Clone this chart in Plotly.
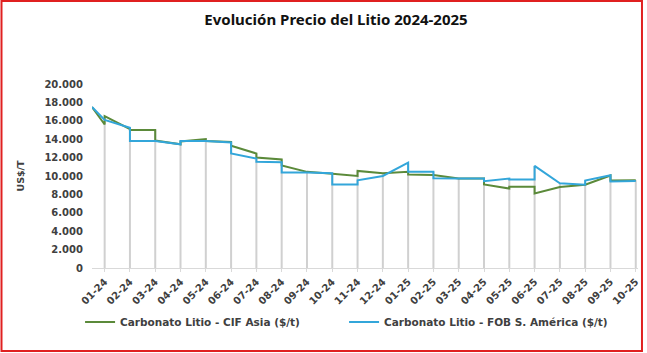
import plotly.graph_objects as go

# ---- data (values in US$/t) ----
months = ["01-24", "02-24", "03-24", "04-24", "05-24", "06-24", "07-24", "08-24",
          "09-24", "10-24", "11-24", "12-24", "01-25", "02-25", "03-25", "04-25",
          "05-25", "06-25", "07-25", "08-25", "09-25", "10-25"]

# opening value (late Dec-23, half a period before the first month)
cif_start = 17500
fob_start = 17500

# readings registered inside each month (in order)
cif_asia = [
    [15600, 16500], [15100, 15000], [15000, 13850], [13450, 13750], [14000, 13800],
    [13700, 13300], [12450, 12000], [11800, 11150], [10450], [10250],
    [10000, 10550], [10300], [10450, 10150], [10100], [9720],
    [9720, 9080], [8640, 8820], [8820, 8100], [8800], [9050],
    [10050, 9500], [9550],
]
fob_sa = [
    [16100], [15250, 13800], [13800], [13450, 13800], [13800],
    [13650, 12450], [11900, 11550], [11500, 10380], [10380], [10300, 9080],
    [9080, 9540], [10000], [11460, 10450], [10450, 9750], [9720],
    [9720, 9440], [9720, 9620], [9620, 11100], [9200], [9050, 9500],
    [10080, 9400], [9450],
]

legend_cif = "Carbonato Litio - CIF Asia ($/t)"
legend_fob = "Carbonato Litio - FOB S. América ($/t)"
title_text = "Evolución Precio del Litio 2024-2025"
y_title = "US$/T"
y_ticks = list(range(0, 20001, 2000))

START_POS = -0.5


def build(start, groups):
    xs, ys = [START_POS], [start]
    for i, vals in enumerate(groups):
        for v in vals:
            xs.append(i)
            ys.append(v)
    return xs, ys


cx, cy = build(cif_start, cif_asia)
fx, fy = build(fob_start, fob_sa)

# drop lines from the highest reading of each month down to the axis
dx, dy = [], []
for i in range(len(months)):
    top = max(max(cif_asia[i]), max(fob_sa[i]))
    dx += [i, i, None]
    dy += [0, top, None]

W, H = 647, 353
L, R, T, B = 92, 6, 84, 85
pw, ph = W - L - R, H - T - B

fig = go.Figure()
fig.add_trace(go.Scatter(x=dx, y=dy, mode="lines", line=dict(color="#D0D0D0", width=2),
                         showlegend=False, hoverinfo="skip"))
fig.add_trace(go.Scatter(x=cx, y=cy, mode="lines", name=legend_cif,
                         line=dict(color="#5B8A3A", width=2)))
fig.add_trace(go.Scatter(x=fx, y=fy, mode="lines", name=legend_fob,
                         line=dict(color="#33A6DA", width=2)))

bold = dict(family="DejaVu Sans", size=10, color="#404040", weight="bold")

fig.update_layout(
    width=W, height=H,
    margin=dict(l=L, r=R, t=T, b=B),
    paper_bgcolor="white", plot_bgcolor="white",
    separators=",.",
    title=dict(text=title_text, x=336 / W, y=1 - 20 / H, xref="container", yref="container",
               xanchor="center", yanchor="middle",
               font=dict(family="Noto Sans", size=15, color="#111111", weight="bold")),
    showlegend=True,
    legend=dict(orientation="h", x=(80 - L) / pw, y=(T + ph - 322) / ph,
                xanchor="left", yanchor="middle",
                font=dict(family="DejaVu Sans", size=10.5, color="#404040", weight="bold"),
                entrywidth=219, entrywidthmode="pixels",
                bgcolor="rgba(0,0,0,0)", itemclick=False),
    xaxis=dict(range=[START_POS, START_POS + pw / 25.43], tickmode="array",
               tickvals=list(range(len(months))), ticktext=months, tickangle=-45,
               showgrid=False, zeroline=False, showline=True, linecolor="#D9D9D9",
               linewidth=1, ticks="outside", ticklen=3, tickcolor="#D9D9D9",
               tickfont=dict(family="DejaVu Sans", size=10, color="#404040", weight="bold")),
    yaxis=dict(range=[0, 20000], tickvals=y_ticks, tickformat=",d",
               showgrid=False, zeroline=False, showline=False, ticks="",
               ticklabelstandoff=8,
               tickfont=bold,
               title=dict(text=y_title, standoff=18,
                          font=dict(family="DejaVu Sans", size=9.5, color="#404040", weight="bold"))),
    shapes=[dict(type="rect", xref="paper", yref="paper",
                 x0=(1 - L) / pw, x1=(645 - L) / pw,
                 y0=(T + ph - 351) / ph, y1=(T + ph - 1) / ph,
                 line=dict(color="#E02020", width=2), fillcolor="rgba(0,0,0,0)")],
)

fig.write_html("out.html")
